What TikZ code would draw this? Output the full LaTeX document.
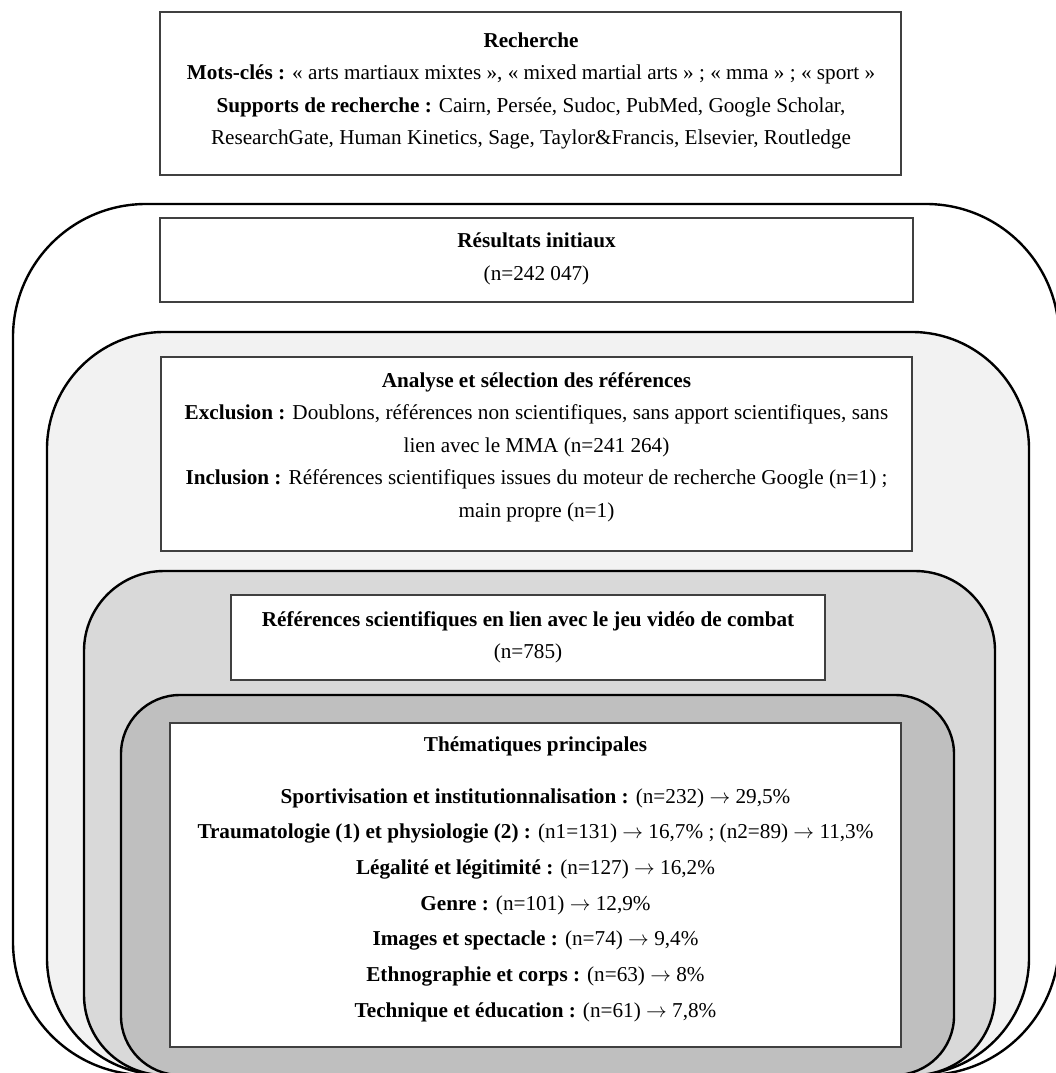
\documentclass[tikz,border=0pt]{standalone}
\usepackage{fontspec}
\setmainfont{Liberation Serif}
\definecolor{layerA}{HTML}{FFFFFF}
\definecolor{layerB}{HTML}{F2F2F2}
\definecolor{layerC}{HTML}{D9D9D9}
\definecolor{layerD}{HTML}{BFBFBF}
\definecolor{boxline}{HTML}{404040}
\newcommand{\myarr}{\ensuremath{\rightarrow}}
\begin{document}
\begin{tikzpicture}[x=1pt,y=-1pt,
  layer/.style={draw=black, line width=2.4pt},
  box/.style={draw=boxline, line width=1.2pt, fill=white, inner sep=0pt, rectangle},
  txt/.style={align=center, inner sep=0pt, font=\fontsize{21.2}{32.4}\selectfont},
  txtB/.style={align=center, inner sep=0pt, font=\fontsize{21.2}{35.7}\selectfont}]
\useasboundingbox (0,0) rectangle (1056,1073);
\clip (0,0) rectangle (1056,1073);
\fill[white] (0,0) rectangle (1056,1073);

% Recherche box
\node[box, minimum width=741pt, minimum height=163pt] (rech) at (530.5,93.5) {};
\node[txt] (recht) at (531,91) {\textbf{Recherche}\\
\textbf{Mots-clés :} « arts martiaux mixtes », « mixed martial arts » ; « mma » ; « sport »\\
\textbf{Supports de recherche :} Cairn, Persée, Sudoc, PubMed, Google Scholar,\\
ResearchGate, Human Kinetics, Sage, Taylor\&Francis, Elsevier, Routledge};

% layer 1
\draw[layer, fill=layerA, rounded corners=133pt] (13,204) rectangle (1059,1075);
\node[box, minimum width=753pt, minimum height=84pt] (res) at (536.5,260) {};
\node[txt] (rest) at (536.5,259) {\textbf{Résultats initiaux}\\(n=242 047)};

% layer 2
\draw[layer, fill=layerB, rounded corners=117pt] (47,332) rectangle (1029,1075);
\node[box, minimum width=751pt, minimum height=194pt] (ana) at (536.5,454) {};
\node[txt] (anat) at (536.5,447) {\textbf{Analyse et sélection des références}\\
\textbf{Exclusion :} Doublons, références non scientifiques, sans apport scientifiques, sans\\
lien avec le MMA (n=241 264)\\
\textbf{Inclusion :} Références scientifiques issues du moteur de recherche Google (n=1) ;\\
main propre (n=1)};

% layer 3
\draw[layer, fill=layerC, rounded corners=80pt] (84,571) rectangle (995,1075);
\node[box, minimum width=594pt, minimum height=85pt] (ref) at (528,637.5) {};
\node[txt] (reft) at (528,637) {\textbf{Références scientifiques en lien avec le jeu vidéo de combat}\\(n=785)};

% layer 4
\draw[layer, fill=layerD, rounded corners=59pt] (121,695) rectangle (954,1075);
\node[box, minimum width=731pt, minimum height=324pt] (them) at (535.5,885) {};
\node[txtB] (themt) at (535.5,879) {\textbf{Thématiques principales}\\[16.3pt]
\textbf{Sportivisation et institutionnalisation :} (n=232) \myarr{} 29,5\%\\
\textbf{Traumatologie (1) et physiologie (2) :} (n1=131) \myarr{} 16,7\% ; (n2=89) \myarr{} 11,3\%\\
\textbf{Légalité et légitimité :} (n=127) \myarr{} 16,2\%\\
\textbf{Genre :} (n=101) \myarr{} 12,9\%\\
\textbf{Images et spectacle :} (n=74) \myarr{} 9,4\%\\
\textbf{Ethnographie et corps :} (n=63) \myarr{} 8\%\\
\textbf{Technique et éducation :} (n=61) \myarr{} 7,8\%};
\end{tikzpicture}
\end{document}
